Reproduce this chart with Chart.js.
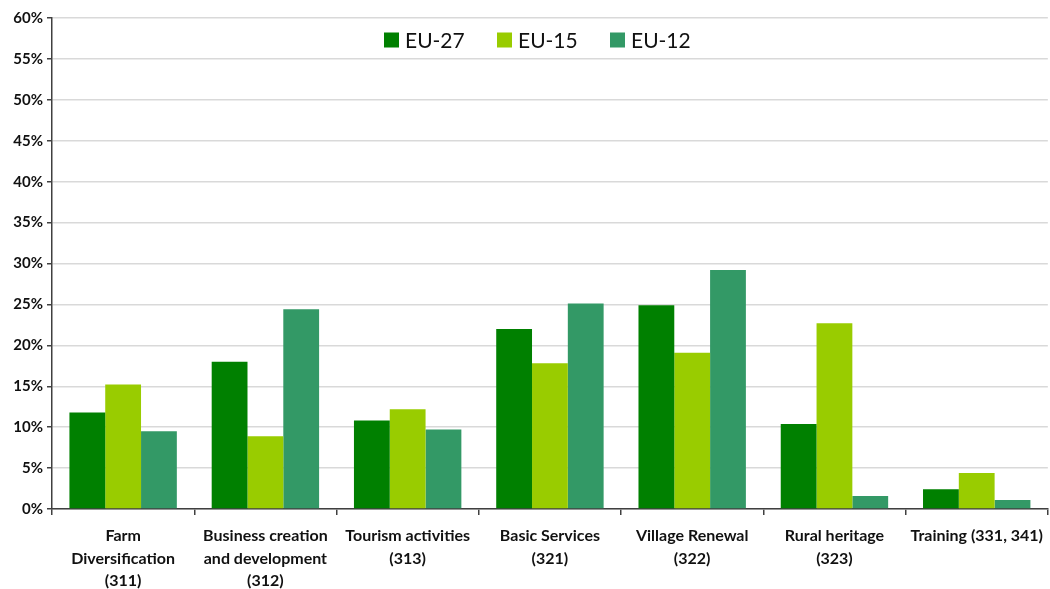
<!DOCTYPE html>
<html>
<head>
<meta charset="utf-8">
<script src="https://cdn.jsdelivr.net/npm/chart.js@4"></script>
<style>
  html, body { margin: 0; background: #fff; overflow: hidden; }
</style>
</head>
<body>
<canvas id="measures" width="1053" height="589"></canvas>
<script>
const categories = [
  ['Farm', 'Diversification', '(311)'],
  ['Business creation', 'and development', '(312)'],
  ['Tourism activities', '(313)'],
  ['Basic Services', '(321)'],
  ['Village Renewal', '(322)'],
  ['Rural heritage', '(323)'],
  'Training (331, 341)'
];
const seriesNames = ['EU-27', 'EU-15', 'EU-12'];
const eu27 = [11.8, 18.0, 10.8, 22.0, 24.9, 10.4, 2.4];
const eu15 = [15.2, 8.9, 12.2, 17.8, 19.1, 22.7, 4.4];
const eu12 = [9.5, 24.4, 9.7, 25.1, 29.2, 1.6, 1.1];
const colors = ['#008000', '#99cc00', '#339966'];

// legend drawn inside the plot area, near the top
const insideLegend = {
  id: 'insideLegend',
  afterDraw(chart) {
    const ctx = chart.ctx;
    ctx.save();
    ctx.font = '21px Lato';
    ctx.textBaseline = 'middle';
    const box = 15, gap = 6, step = 113;
    const y = 40;
    let x = chart.chartArea.left + 332;
    chart.data.datasets.forEach(d => {
      ctx.fillStyle = d.backgroundColor;
      ctx.fillRect(x, y - box / 2, box, box);
      ctx.fillStyle = '#111';
      ctx.fillText(d.label, x + box + gap, y + 1);
      x += step;
    });
    ctx.restore();
  }
};

new Chart(document.getElementById('measures').getContext('2d'), {
  type: 'bar',
  data: {
    labels: categories,
    datasets: [eu27, eu15, eu12].map((vals, i) => ({
      label: seriesNames[i],
      data: vals,
      backgroundColor: colors[i],
      categoryPercentage: 0.755,
      barPercentage: 1
    }))
  },
  options: {
    responsive: false,
    animation: false,
    layout: { padding: { top: 18, right: 0, bottom: 0, left: 0 } },
    plugins: {
      legend: { display: false },
      tooltip: { enabled: false }
    },
    scales: {
      x: {
        grid: { offset: true, drawOnChartArea: false, tickLength: 6, color: '#404040', lineWidth: 1.5 },
        border: { color: '#404040', width: 1.5 },
        ticks: {
          font: { family: 'Lato', size: 16, weight: 'bold', lineHeight: 1.4 },
          color: '#111',
          padding: 10,
          maxRotation: 0,
          autoSkip: false
        },
        afterFit(s) { s.height = 80; }
      },
      y: {
        min: 0,
        max: 60,
        grid: { color: '#d9d9d9', lineWidth: 1.5, tickLength: 5, tickColor: '#404040' },
        border: { color: '#404040', width: 1.5 },
        ticks: {
          stepSize: 5,
          font: { family: 'Lato', size: 15, weight: 'bold' },
          color: '#111',
          padding: 4,
          callback: v => v + '%'
        },
        afterFit(s) { s.width = 52; }
      }
    }
  },
  plugins: [insideLegend]
});
</script>
</body>
</html>
